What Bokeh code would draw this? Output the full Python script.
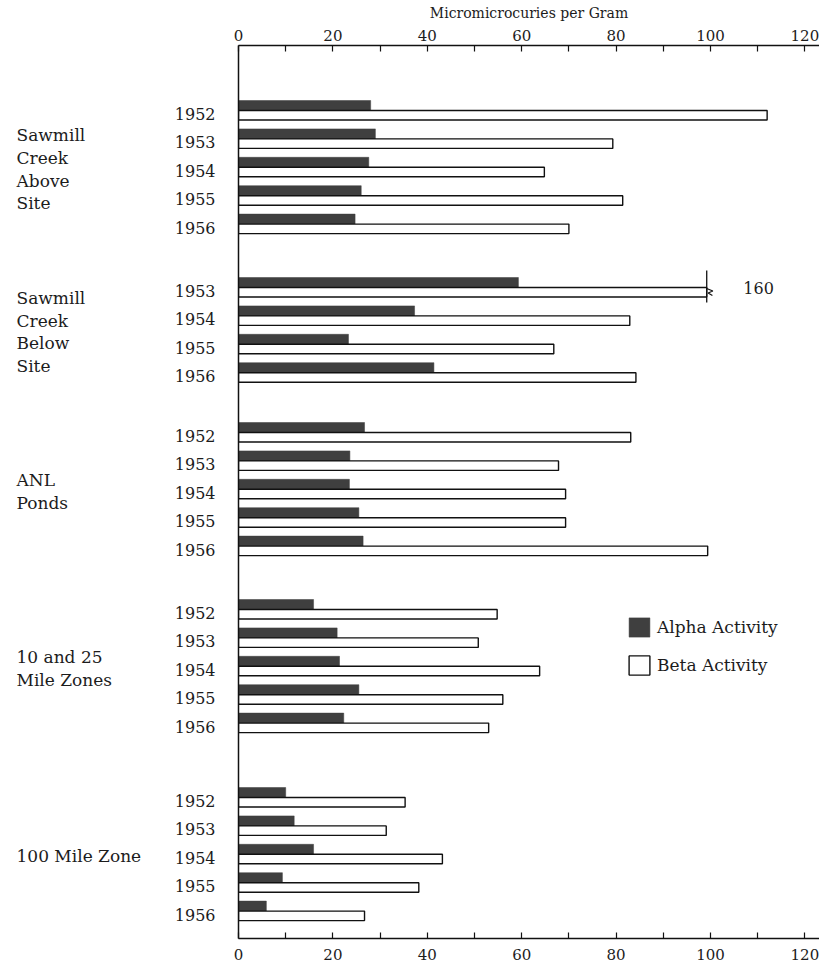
from bokeh.plotting import figure
from bokeh.layouts import row
from bokeh.models import (Range1d, LinearAxis, FixedTicker, Legend,
                          LegendItem, ColumnDataSource)
from bokeh.core.properties import value
from bokeh.embed import file_html
from bokeh.resources import INLINE

# ---------------- data ----------------
axis_title = "Micromicrocuries per Gram"
series_names = ["Alpha Activity", "Beta Activity"]

group_lines = [
    ["Sawmill", "Creek", "Above", "Site"],
    ["Sawmill", "Creek", "Below", "Site"],
    ["ANL", "Ponds"],
    ["10 and 25", "Mile Zones"],
    ["100 Mile Zone"],
]

years_above = ["1952", "1953", "1954", "1955", "1956"]
alpha_above = [28.0, 29.0, 27.6, 26.0, 24.7]
beta_above = [112.0, 79.3, 64.8, 81.4, 70.0]

years_below = ["1953", "1954", "1955", "1956"]
alpha_below = [59.3, 37.3, 23.3, 41.4]
beta_below = [160.0, 82.9, 66.8, 84.2]

years_anl = ["1952", "1953", "1954", "1955", "1956"]
alpha_anl = [26.7, 23.6, 23.5, 25.5, 26.4]
beta_anl = [83.1, 67.8, 69.3, 69.3, 99.4]

years_1025 = ["1952", "1953", "1954", "1955", "1956"]
alpha_1025 = [15.9, 20.9, 21.4, 25.5, 22.3]
beta_1025 = [54.8, 50.8, 63.8, 56.0, 53.0]

years_100 = ["1952", "1953", "1954", "1955", "1956"]
alpha_100 = [10.0, 11.8, 15.9, 9.3, 5.9]
beta_100 = [35.3, 31.3, 43.2, 38.2, 26.7]

x_tick_values = [0, 20, 40, 60, 80, 100, 120]
x_minor_values = [10, 30, 50, 70, 90, 110]

# bars longer than the axis are broken off at this value
axis_break = 99.2
axis_max = 120

# ---------------- layout ----------------
FONT = "DejaVu Serif"
TXT = "#1c1c1c"
DARK = "#3f3f3f"

W, H = 819, 966
LEFT_W = 150
frame_left, frame_top, frame_bottom = 238, 45, 938   # page pixels
group_first_row = [110, 287, 432, 609, 797]
row_pitch = 28.4
alpha_h, beta_h = 10.0, 9.5
line_gap = 22.7
px_per_unit = 4.72
x_end = (W - frame_left) / px_per_unit

groups_years = [years_above, years_below, years_anl, years_1025, years_100]
groups_alpha = [alpha_above, alpha_below, alpha_anl, alpha_1025, alpha_100]
groups_beta = [beta_above, beta_below, beta_anl, beta_1025, beta_100]

ya, yb, av, bv, bdraw, centers_all = [], [], [], [], [], []
tick_pos, tick_over = [], {}
row_centers = []
for g, (yrs, al, be) in enumerate(zip(groups_years, groups_alpha, groups_beta)):
    centers = []
    for i, (yr, a, b) in enumerate(zip(yrs, al, be)):
        c = group_first_row[g] + i * row_pitch
        centers.append(c)
        centers_all.append(c)
        ya.append(c - alpha_h / 2)
        yb.append(c + beta_h / 2)
        av.append(a)
        bv.append(b)
        bdraw.append(axis_break if b > axis_max else b)
        t = int(round(c + 3))
        tick_pos.append(t)
        tick_over[t] = yr
    row_centers.append(centers)

src_a = ColumnDataSource(dict(y=ya, v=av))
src_b = ColumnDataSource(dict(y=yb, v=bdraw, full=bv))

# ---- left panel: group names ----
lp = figure(width=LEFT_W, height=H, output_backend="svg", toolbar_location=None,
            x_range=Range1d(0, LEFT_W), y_range=Range1d(frame_bottom, frame_top),
            x_axis_location=None, y_axis_location=None,
            min_border_left=0, min_border_right=0,
            min_border_top=frame_top, min_border_bottom=H - frame_bottom)
lp.outline_line_color = None
lp.xgrid.visible = False
lp.ygrid.visible = False

gx, gy, gt = [], [], []
for g, lines in enumerate(group_lines):
    cen = sum(row_centers[g]) / len(row_centers[g]) + 2
    n = len(lines)
    for k, s in enumerate(lines):
        gx.append(16)
        gy.append(cen + (k - (n - 1) / 2) * line_gap)
        gt.append(s)
lp.text(x=gx, y=gy, text=gt, text_font=value(FONT), text_font_size="17px",
        text_color=TXT, text_align="left", text_baseline="middle")

# ---- main panel ----
p = figure(width=W - LEFT_W, height=H, output_backend="svg", toolbar_location=None,
           x_range=Range1d(0, x_end), y_range=Range1d(frame_bottom, frame_top),
           min_border_left=frame_left - LEFT_W, min_border_right=0,
           min_border_top=frame_top, min_border_bottom=H - frame_bottom)
p.outline_line_color = None
p.xgrid.visible = False
p.ygrid.visible = False

ra = p.hbar(y="y", right="v", left=0, height=alpha_h, source=src_a,
            fill_color=DARK, line_color=DARK, line_width=0.5)
rb = p.hbar(y="y", right="v", left=0, height=beta_h, source=src_b,
            fill_color="white", line_color="#111111", line_width=1.4)


def style_x(ax, standoff):
    ax.ticker = FixedTicker(ticks=x_tick_values, minor_ticks=x_minor_values)
    ax.major_tick_in = 6
    ax.major_tick_out = 0
    ax.minor_tick_in = 6
    ax.minor_tick_out = 0
    ax.major_tick_line_color = "#111111"
    ax.minor_tick_line_color = "#111111"
    ax.major_tick_line_width = 1.2
    ax.minor_tick_line_width = 1.2
    ax.axis_line_color = "#111111"
    ax.axis_line_width = 1.5
    ax.major_label_text_font = FONT
    ax.major_label_text_font_size = "15px"
    ax.major_label_text_color = TXT
    ax.major_label_standoff = standoff


style_x(p.xaxis[0], 10)
top_ax = LinearAxis(axis_label=axis_title)
style_x(top_ax, 5)
top_ax.axis_label_text_font = FONT
top_ax.axis_label_text_font_size = "14px"
top_ax.axis_label_text_font_style = "normal"
top_ax.axis_label_text_color = TXT
top_ax.axis_label_standoff = 6
p.add_layout(top_ax, "above")

yax = p.yaxis[0]
yax.ticker = FixedTicker(ticks=tick_pos)
yax.major_label_overrides = tick_over
yax.major_tick_line_color = None
yax.minor_tick_line_color = None
yax.axis_line_color = "#111111"
yax.axis_line_width = 1.5
yax.major_label_text_font = FONT
yax.major_label_text_font_size = "16px"
yax.major_label_text_color = TXT
yax.major_label_standoff = 17

# broken bar marker and its true value
for c, b in zip(centers_all, bv):
    if b > axis_max:
        p.segment(x0=[axis_break], y0=[c - 17], x1=[axis_break], y1=[c + 15],
                  line_color="#111111", line_width=1.3)
        p.line(x=[axis_break, axis_break + 1.3, axis_break + 0.3, axis_break + 1.2],
               y=[c + 1, c + 3.5, c + 5.5, c + 8], line_color="#111111", line_width=1.2)
        p.text(x=[110.2], y=[c], text=[f"{b:.0f}"], text_font=value(FONT),
               text_font_size="16px", text_color=TXT,
               text_align="center", text_baseline="middle")

legend = Legend(items=[LegendItem(label=series_names[0], renderers=[ra]),
                       LegendItem(label=series_names[1], renderers=[rb])],
                location=(388, 261), glyph_width=26, glyph_height=24,
                label_standoff=5, spacing=14, padding=0, margin=0,
                label_height=24, border_line_color=None,
                background_fill_alpha=0, label_text_font=FONT,
                label_text_font_size="17px", label_text_color=TXT)
p.add_layout(legend, "center")

layout = row(lp, p)
open("out.html", "w").write(file_html(layout, INLINE))
